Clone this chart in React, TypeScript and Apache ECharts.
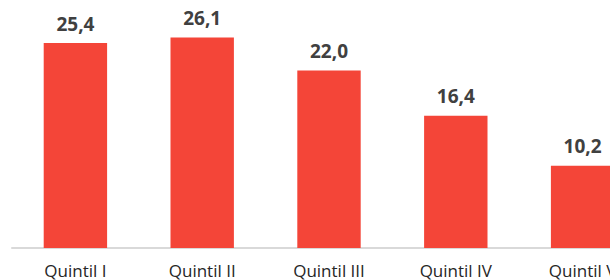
import React, { useEffect, useRef } from "react";
import * as echarts from "echarts";

const categories = ["Quintil I", "Quintil II", "Quintil III", "Quintil IV", "Quintil V"];
const values = [25.4, 26.1, 22.0, 16.4, 10.2];

export default function App() {
  const ref = useRef<HTMLDivElement>(null);
  useEffect(() => {
    const chart = echarts.init(ref.current!, null, { renderer: "svg" });
    chart.setOption({
      animation: false,
      grid: {
        left: 12,
        width: 634,
        top: 6,
        height: 242,
        containLabel: false,
        outerBoundsMode: "none",
      },
      xAxis: {
        type: "category",
        data: categories,
        axisLine: { show: true, lineStyle: { color: "#d9d9d9", width: 2 } },
        axisTick: { show: false },
        axisLabel: {
          color: "#262626",
          fontFamily: "Open Sans",
          fontSize: 17,
          margin: 14,
          hideOverlap: false,
        },
      },
      yAxis: {
        type: "value",
        min: 0,
        max: 30,
        show: false,
        splitLine: { show: false },
      },
      series: [
        {
          type: "bar",
          data: values,
          barWidth: "50%",
          itemStyle: { color: "#F44538" },
          label: {
            show: true,
            position: "top",
            distance: 10,
            color: "#404040",
            fontFamily: "Open Sans",
            fontWeight: "bold",
            fontSize: 19,
            formatter: (p: any) => p.value.toFixed(1).replace(".", ","),
          },
        },
      ],
    });
    return () => chart.dispose();
  }, []);
  return <div ref={ref} style={{ width: 610, height: 280, position: "absolute", left: 0, top: 0 }} />;
}
